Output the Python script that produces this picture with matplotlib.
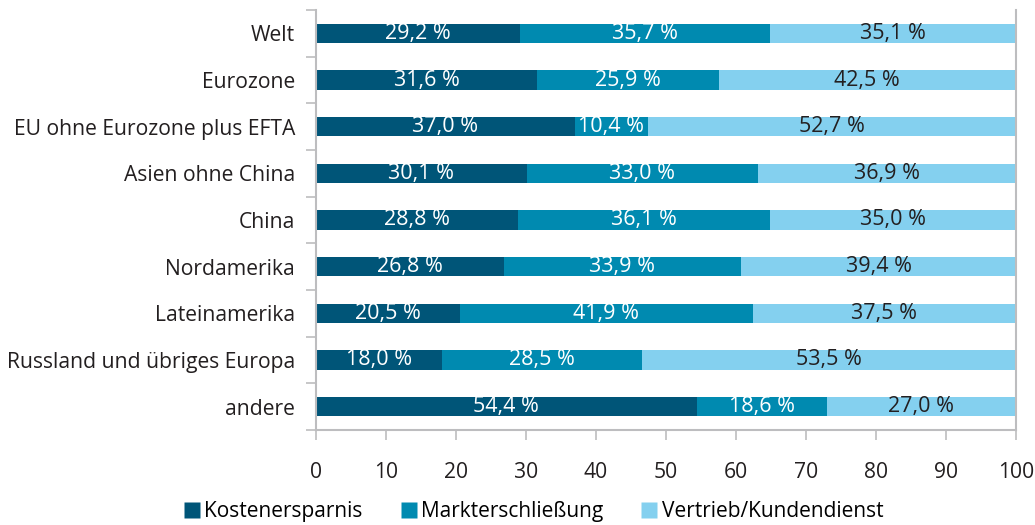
import matplotlib
matplotlib.use("Agg")
import matplotlib.pyplot as plt
from matplotlib.lines import Line2D
import numpy as np

plt.rcParams["font.family"] = ["Open Sans", "DejaVu Sans"]

regions = ["Welt", "Eurozone", "EU ohne Eurozone plus EFTA", "Asien ohne China",
           "China", "Nordamerika", "Lateinamerika", "Russland und übriges Europa",
           "andere"]
kostenersparnis = [29.2, 31.6, 37.0, 30.1, 28.8, 26.8, 20.5, 18.0, 54.4]
markterschliessung = [35.7, 25.9, 10.4, 33.0, 36.1, 33.9, 41.9, 28.5, 18.6]
vertrieb = [35.1, 42.5, 52.7, 36.9, 35.0, 39.4, 37.5, 53.5, 27.0]
series_names = ["Kostenersparnis", "Markterschließung", "Vertrieb/Kundendienst"]
xticks = [0, 10, 20, 30, 40, 50, 60, 70, 80, 90, 100]

colors = ["#005578", "#008AB0", "#84D0EF"]
text_colors = ["white", "white", "#231F20"]
axis_gray = "#BDBDBF"
fs = 15.2

fig = plt.figure(figsize=(10.35, 5.25), dpi=100)
ax = fig.add_axes([316 / 1035, 1 - 430 / 525, 700 / 1035, 420 / 525])

y = np.arange(len(regions))
left = np.zeros(len(regions))
for vals, col, tcol in zip([kostenersparnis, markterschliessung, vertrieb], colors, text_colors):
    vals = np.array(vals)
    ax.barh(y, vals, left=left, height=0.41, color=col, edgecolor="none")
    for yi, l, v in zip(y, left, vals):
        label = f"{v:.1f} %".replace(".", ",")
        ax.text(l + v / 2, yi, label, ha="center", va="center", color=tcol,
                fontsize=15.5)
    left = left + vals

ax.set_xlim(0, 100)
ax.set_ylim(len(regions) - 0.5, -0.5)
ax.set_xticks(xticks)
ax.set_xticklabels([str(t) for t in xticks], fontsize=fs, color="#231F20")
ax.set_yticks(y)
ax.set_yticklabels(regions, fontsize=fs, color="#231F20")
ax.set_yticks(np.arange(-0.5, len(regions)), minor=True)

ax.tick_params(axis="y", which="major", length=0, pad=15)
ax.tick_params(axis="y", which="minor", length=7, width=1.2, color=axis_gray)
ax.tick_params(axis="x", which="major", length=7, width=1.2, color=axis_gray, pad=16)

for side in ["left", "bottom", "right"]:
    ax.spines[side].set_color(axis_gray)
    ax.spines[side].set_linewidth(1.5)
ax.spines["top"].set_visible(False)

handles = [Line2D([], [], marker="s", linestyle="none", markersize=11,
                  markerfacecolor=c, markeredgecolor="none") for c in colors]
fig.legend(handles, series_names, loc="center", bbox_to_anchor=(0.5164, 0.025),
           ncol=3, frameon=False, fontsize=15, handlelength=0.6, handletextpad=0.3,
           columnspacing=1.9, borderpad=0, borderaxespad=0)

fig.savefig("out.png", dpi=100)
